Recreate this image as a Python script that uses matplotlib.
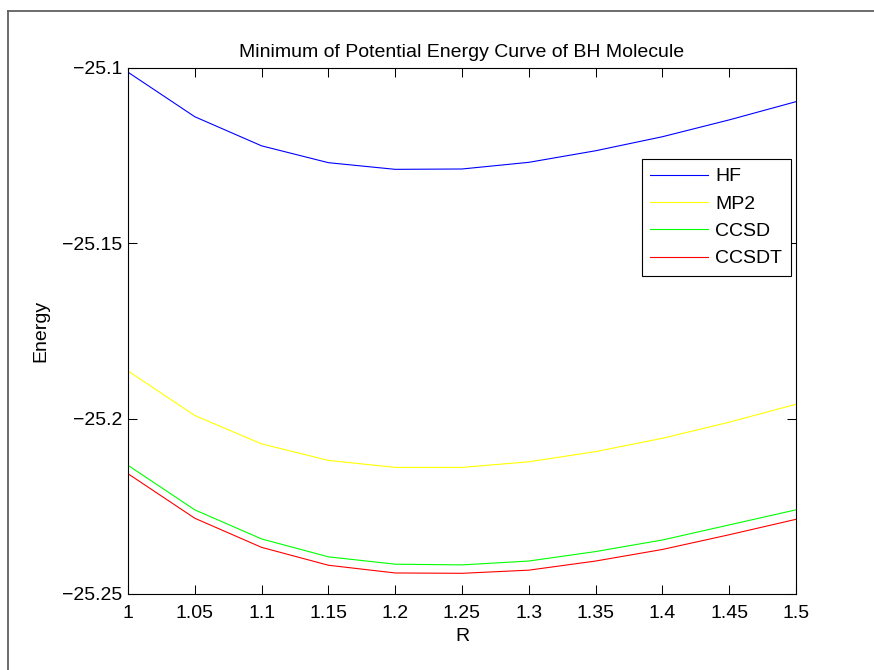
import matplotlib
matplotlib.use("Agg")
import matplotlib.pyplot as plt
from matplotlib.lines import Line2D

plt.rcParams['font.family'] = ['Liberation Sans', 'DejaVu Sans']
plt.rcParams['font.size'] = 14

# bond length R and energies for each method
R = [1.00, 1.05, 1.10, 1.15, 1.20, 1.25, 1.30, 1.35, 1.40, 1.45, 1.50]
hf = [-25.1012, -25.1139, -25.1222, -25.1270, -25.1289, -25.1288,
      -25.1269, -25.1236, -25.1196, -25.1148, -25.1096]
mp2 = [-25.1864, -25.1991, -25.2072, -25.2119, -25.2139, -25.2139,
       -25.2123, -25.2094, -25.2056, -25.2010, -25.1959]
ccsd = [-25.2133, -25.2260, -25.2343, -25.2394, -25.2415, -25.2417,
        -25.2406, -25.2379, -25.2346, -25.2303, -25.2260]
ccsdt = [-25.2157, -25.2284, -25.2367, -25.2418, -25.2440, -25.2441,
         -25.2432, -25.2406, -25.2373, -25.2331, -25.2287]

xticks = [1, 1.05, 1.1, 1.15, 1.2, 1.25, 1.3, 1.35, 1.4, 1.45, 1.5]
xticklabels = ['1', '1.05', '1.1', '1.15', '1.2', '1.25', '1.3', '1.35', '1.4', '1.45', '1.5']
yticks = [-25.25, -25.2, -25.15, -25.1]
yticklabels = ['\u221225.25', '\u221225.2', '\u221225.15', '\u221225.1']

fig = plt.figure(figsize=(8.74, 6.7), dpi=100)
ax = fig.add_axes([128 / 874, 76 / 670, 668 / 874, 526 / 670])

ax.plot(R, hf, color='#0000ff', lw=0.8, label='HF')
ax.plot(R, mp2, color='#ffff00', lw=0.8, label='MP2')
ax.plot(R, ccsd, color='#00ff00', lw=0.8, label='CCSD')
ax.plot(R, ccsdt, color='#ff0000', lw=0.8, label='CCSDT')

ax.set_xlim(1, 1.5)
ax.set_ylim(-25.25, -25.1)
ax.set_xticks(xticks)
ax.set_xticklabels(xticklabels)
ax.set_yticks(yticks)
ax.set_yticklabels(yticklabels)
ax.tick_params(direction='in', length=6.5, width=0.75, top=True, right=True)
ax.tick_params(axis='x', pad=8)
ax.tick_params(axis='y', pad=4.3)
for s in ax.spines.values():
    s.set_linewidth(0.8)

ax.set_title('Minimum of Potential Energy Curve of BH Molecule', fontsize=14, pad=8)
ax.set_xlabel('R', labelpad=4)
ax.set_ylabel('Energy', labelpad=9)

leg = ax.legend(loc='upper right', bbox_to_anchor=(0.9925, 0.827),
                borderaxespad=0, fancybox=False, framealpha=1,
                edgecolor='black', handlelength=2.95, handletextpad=0.38,
                borderpad=0.45, labelspacing=0.5)
leg.get_frame().set_linewidth(0.8)

# window border along the top and left edges
fig.add_artist(Line2D([8 / 874, 1], [1 - 11 / 670, 1 - 11 / 670],
                      transform=fig.transFigure, color='#606060', lw=1.3))
fig.add_artist(Line2D([8 / 874, 8 / 874], [0, 1 - 11 / 670],
                      transform=fig.transFigure, color='#606060', lw=1.3))

fig.savefig('out.png', dpi=100)
